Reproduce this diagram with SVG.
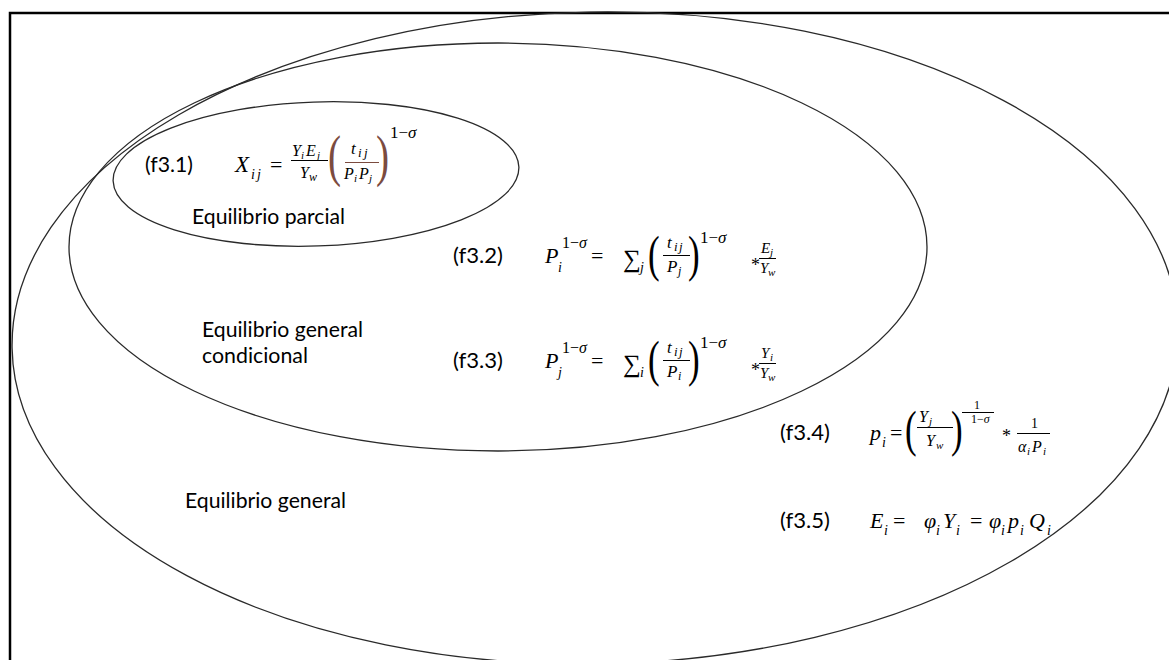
<svg xmlns="http://www.w3.org/2000/svg" width="1169" height="660" viewBox="0 0 1169 660">
<style>
.ell{fill:none;stroke:#2a2a2a;stroke-width:1.3}
.lbl{font-family:Lato,"Liberation Sans",sans-serif;font-size:21px;fill:#000}
.m{font-family:"Liberation Serif","DejaVu Serif",serif;font-style:italic;fill:#000}
.u{font-family:"Liberation Serif","DejaVu Serif",serif;font-style:normal;fill:#000}
.fl{stroke:#000;stroke-width:1}
.br{fill:#7b4b3f}
.brl{stroke:#7b4b3f;stroke-width:1}
</style>
<rect width="1169" height="660" fill="#fff"/>
<path d="M10,660 V13 H1169" fill="none" stroke="#000" stroke-width="2.5"/>

<g id="equilibrio-general">
<ellipse class="ell" cx="595" cy="338" rx="583" ry="326" transform="rotate(-1 595 338)"/>
<text class="lbl" x="185" y="508" textLength="161" lengthAdjust="spacingAndGlyphs">Equilibrio general</text>
</g>

<g id="equilibrio-general-condicional">
<ellipse class="ell" cx="498" cy="247" rx="429" ry="204"/>
<text class="lbl" x="202" y="337" textLength="161" lengthAdjust="spacingAndGlyphs">Equilibrio general</text>
<text class="lbl" x="202" y="363" textLength="106" lengthAdjust="spacingAndGlyphs">condicional</text>
</g>

<g id="equilibrio-parcial">
<ellipse class="ell" cx="316" cy="174" rx="203" ry="72" transform="rotate(-2 316 174)"/>
<text class="lbl" x="192" y="224" textLength="153" lengthAdjust="spacingAndGlyphs">Equilibrio parcial</text>
</g>

<g id="f3-1">
<text class="lbl" x="145" y="172" textLength="48" lengthAdjust="spacingAndGlyphs">(f3.1)</text>
<text class="m" x="235" y="172" font-size="23">X</text>
<text class="m" x="251" y="179" font-size="14">i</text>
<text class="m" x="257" y="179" font-size="14">j</text>
<text class="u" x="270" y="172" font-size="22">=</text>
<text class="m" x="292" y="156" font-size="16">Y</text>
<text class="m" x="301" y="159" font-size="11">i</text>
<text class="m" x="306" y="156" font-size="16">E</text>
<text class="m" x="317" y="159" font-size="11">j</text>
<line class="fl" x1="291" y1="160.5" x2="328" y2="160.5"/>
<text class="m" x="300" y="178" font-size="16">Y</text>
<text class="m" x="309" y="181" font-size="12">w</text>
<text class="u br" font-size="56" transform="translate(328 175) scale(0.7 1)">(</text>
<text class="m" x="351" y="154" font-size="17">t</text>
<text class="m" x="358" y="157" font-size="13">i</text>
<text class="m" x="364" y="157" font-size="13">j</text>
<line class="brl" x1="345" y1="162.5" x2="379" y2="162.5"/>
<text class="m" x="344" y="179" font-size="16">P</text>
<text class="m" x="354" y="182" font-size="11">i</text>
<text class="m" x="359" y="179" font-size="16">P</text>
<text class="m" x="369" y="182" font-size="11">j</text>
<text class="u br" font-size="56" transform="translate(376 175) scale(0.7 1)">)</text>
<text class="u" x="390" y="138" font-size="17">1−<tspan class="m">σ</tspan></text>
</g>

<g id="f3-2">
<text class="lbl" x="453" y="263" textLength="50" lengthAdjust="spacingAndGlyphs">(f3.2)</text>
<text class="m" x="545" y="263" font-size="22">P</text>
<text class="m" x="558" y="272" font-size="14">i</text>
<text class="u" x="562" y="248" font-size="16">1−<tspan class="m">σ</tspan></text>
<text class="u" x="591" y="263" font-size="22">=</text>
<text class="u" x="623" y="267" font-size="25">∑</text>
<text class="m" x="640" y="272" font-size="14">j</text>
<text class="u" font-size="50" transform="translate(648 271) scale(0.7 1)">(</text>
<text class="m" x="667" y="248" font-size="17">t</text>
<text class="m" x="674" y="251" font-size="13">i</text>
<text class="m" x="679" y="251" font-size="13">j</text>
<line class="fl" x1="663" y1="255.5" x2="690" y2="255.5"/>
<text class="m" x="667" y="272" font-size="17">P</text>
<text class="m" x="678" y="275" font-size="12">j</text>
<text class="u" font-size="50" transform="translate(688 271) scale(0.7 1)">)</text>
<text class="u" x="700" y="243" font-size="17">1−<tspan class="m">σ</tspan></text>
<text class="u" x="751" y="271" font-size="18">*</text>
<text class="m" x="761" y="253" font-size="15">E</text>
<text class="m" x="770" y="256" font-size="11">j</text>
<line class="fl" x1="759" y1="258.5" x2="776" y2="258.5"/>
<text class="m" x="760" y="273" font-size="15">Y</text>
<text class="m" x="768" y="276" font-size="11">w</text>
</g>

<g id="f3-3">
<text class="lbl" x="453" y="368" textLength="50" lengthAdjust="spacingAndGlyphs">(f3.3)</text>
<text class="m" x="545" y="368" font-size="22">P</text>
<text class="m" x="558" y="377" font-size="14">j</text>
<text class="u" x="562" y="353" font-size="16">1−<tspan class="m">σ</tspan></text>
<text class="u" x="591" y="368" font-size="22">=</text>
<text class="u" x="623" y="372" font-size="25">∑</text>
<text class="m" x="640" y="377" font-size="14">i</text>
<text class="u" font-size="50" transform="translate(648 376) scale(0.7 1)">(</text>
<text class="m" x="667" y="353" font-size="17">t</text>
<text class="m" x="674" y="356" font-size="13">i</text>
<text class="m" x="679" y="356" font-size="13">j</text>
<line class="fl" x1="663" y1="360.5" x2="690" y2="360.5"/>
<text class="m" x="667" y="377" font-size="17">P</text>
<text class="m" x="678" y="380" font-size="12">i</text>
<text class="u" font-size="50" transform="translate(688 376) scale(0.7 1)">)</text>
<text class="u" x="700" y="348" font-size="17">1−<tspan class="m">σ</tspan></text>
<text class="u" x="751" y="376" font-size="18">*</text>
<text class="m" x="761" y="358" font-size="15">Y</text>
<text class="m" x="770" y="361" font-size="11">i</text>
<line class="fl" x1="759" y1="363.5" x2="776" y2="363.5"/>
<text class="m" x="760" y="378" font-size="15">Y</text>
<text class="m" x="768" y="381" font-size="11">w</text>
</g>

<g id="f3-4">
<text class="lbl" x="780" y="440" textLength="50" lengthAdjust="spacingAndGlyphs">(f3.4)</text>
<text class="m" x="870" y="440" font-size="22">p</text>
<text class="m" x="882" y="447" font-size="14">i</text>
<text class="u" x="890" y="440" font-size="22">=</text>
<text class="u" font-size="50" transform="translate(905 446) scale(0.7 1)">(</text>
<text class="m" x="919" y="422" font-size="16">Y</text>
<text class="m" x="929" y="425" font-size="11">j</text>
<line class="fl" x1="917" y1="427.5" x2="953" y2="427.5"/>
<text class="m" x="926" y="446" font-size="16">Y</text>
<text class="m" x="936" y="449" font-size="11">w</text>
<text class="u" font-size="50" transform="translate(951 446) scale(0.7 1)">)</text>
<text class="u" x="974" y="409" font-size="12">1</text>
<line class="fl" x1="962" y1="412.5" x2="994" y2="412.5"/>
<text class="u" x="971" y="423" font-size="12">1−<tspan class="m">σ</tspan></text>
<text class="u" x="1002" y="442" font-size="18">*</text>
<text class="u" x="1031" y="428" font-size="14">1</text>
<line class="fl" x1="1017" y1="433.5" x2="1050" y2="433.5"/>
<text class="m" x="1018" y="452" font-size="16">α</text>
<text class="m" x="1027" y="455" font-size="11">i</text>
<text class="m" x="1032" y="452" font-size="16">P</text>
<text class="m" x="1043" y="455" font-size="11">i</text>
</g>

<g id="f3-5">
<text class="lbl" x="780" y="528" textLength="50" lengthAdjust="spacingAndGlyphs">(f3.5)</text>
<text class="m" x="870" y="528" font-size="22">E</text>
<text class="m" x="884" y="535" font-size="14">i</text>
<text class="u" x="893" y="528" font-size="22">=</text>
<text class="m" x="924" y="528" font-size="22">φ</text>
<text class="m" x="936" y="535" font-size="14">i</text>
<text class="m" x="943" y="528" font-size="22">Y</text>
<text class="m" x="956" y="535" font-size="14">i</text>
<text class="u" x="970" y="528" font-size="22">=</text>
<text class="m" x="989" y="528" font-size="22">φ</text>
<text class="m" x="1001" y="535" font-size="14">i</text>
<text class="m" x="1008" y="528" font-size="22">p</text>
<text class="m" x="1020" y="535" font-size="14">i</text>
<text class="m" x="1029" y="528" font-size="22">Q</text>
<text class="m" x="1047" y="535" font-size="14">i</text>
</g>

<g id="connectors"/>
</svg>
